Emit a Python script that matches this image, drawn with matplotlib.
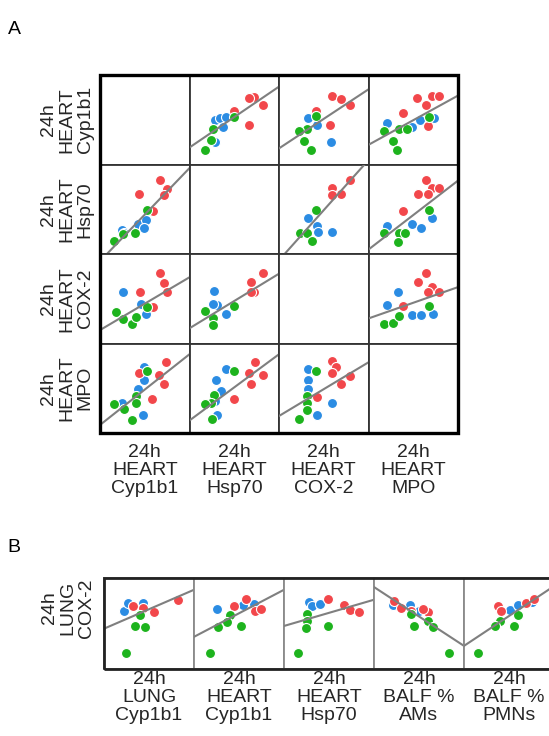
import matplotlib.pyplot as plt
from matplotlib.patches import Rectangle

plt.rcParams['font.family'] = ['Liberation Sans', 'DejaVu Sans']

RED = '#f2474b'
BLUE = '#2b8ce3'
GREEN = '#1db31d'

# panel A: heart variables of the scatter matrix
heart_labels = ["24h\nHEART\nCyp1b1", "24h\nHEART\nHsp70",
                "24h\nHEART\nCOX-2", "24h\nHEART\nMPO"]

# points per cell (row, col), scaled to the cell range 0..1
cell_0_1 = {"red": [(0.72, 0.75), (0.67, 0.74), (0.82, 0.67), (0.50, 0.60), (0.67, 0.44)],
            "blue": [(0.28, 0.50), (0.34, 0.52), (0.41, 0.53), (0.37, 0.42), (0.28, 0.25)],
            "green": [(0.50, 0.53), (0.26, 0.40), (0.24, 0.27), (0.17, 0.16)]}
cell_0_2 = {"red": [(0.59, 0.76), (0.69, 0.73), (0.79, 0.67), (0.41, 0.60), (0.57, 0.44)],
            "blue": [(0.32, 0.52), (0.43, 0.44), (0.58, 0.25)],
            "green": [(0.41, 0.54), (0.31, 0.40), (0.22, 0.37), (0.28, 0.26), (0.36, 0.16)]}
cell_0_3 = {"red": [(0.54, 0.74), (0.64, 0.67), (0.71, 0.76), (0.79, 0.76), (0.39, 0.58), (0.67, 0.43)],
            "blue": [(0.21, 0.46), (0.49, 0.42), (0.57, 0.50), (0.73, 0.52)],
            "green": [(0.17, 0.37), (0.34, 0.40), (0.43, 0.40), (0.68, 0.53), (0.27, 0.26), (0.32, 0.16)]}
cell_1_0 = {"red": [(0.67, 0.83), (0.75, 0.73), (0.44, 0.67), (0.72, 0.66), (0.59, 0.48)],
            "blue": [(0.25, 0.27), (0.42, 0.34), (0.51, 0.38), (0.49, 0.29), (0.27, 0.23)],
            "green": [(0.52, 0.49), (0.39, 0.24), (0.26, 0.22), (0.16, 0.15)]}
cell_1_2 = {"red": [(0.79, 0.83), (0.59, 0.74), (0.69, 0.67), (0.59, 0.66)],
            "blue": [(0.32, 0.40), (0.43, 0.31), (0.59, 0.25), (0.44, 0.25)],
            "green": [(0.41, 0.49), (0.23, 0.24), (0.31, 0.24), (0.37, 0.14)]}
cell_1_3 = {"red": [(0.64, 0.83), (0.71, 0.74), (0.79, 0.74), (0.55, 0.67), (0.67, 0.67), (0.39, 0.48)],
            "blue": [(0.21, 0.31), (0.49, 0.34), (0.59, 0.29), (0.71, 0.40)],
            "green": [(0.17, 0.24), (0.34, 0.24), (0.41, 0.24), (0.33, 0.13), (0.68, 0.49)]}
cell_2_0 = {"red": [(0.67, 0.79), (0.72, 0.68), (0.75, 0.58), (0.45, 0.57), (0.59, 0.41)],
            "blue": [(0.26, 0.58), (0.46, 0.44), (0.51, 0.33)],
            "green": [(0.18, 0.35), (0.26, 0.27), (0.36, 0.22), (0.40, 0.30), (0.53, 0.41)]}
cell_2_1 = {"red": [(0.82, 0.79), (0.69, 0.69), (0.72, 0.58), (0.69, 0.57)],
            "blue": [(0.27, 0.59), (0.31, 0.43), (0.41, 0.33), (0.26, 0.44)],
            "green": [(0.17, 0.36), (0.26, 0.29), (0.26, 0.21), (0.50, 0.42)]}
cell_2_3 = {"red": [(0.64, 0.79), (0.55, 0.69), (0.71, 0.63), (0.67, 0.58), (0.79, 0.58), (0.39, 0.42)],
            "blue": [(0.33, 0.58), (0.21, 0.43), (0.49, 0.32), (0.59, 0.32), (0.72, 0.33)],
            "green": [(0.17, 0.22), (0.27, 0.23), (0.34, 0.31), (0.68, 0.42)]}
cell_3_0 = {"red": [(0.74, 0.79), (0.66, 0.65), (0.72, 0.55), (0.44, 0.67), (0.58, 0.38)],
            "blue": [(0.49, 0.74), (0.49, 0.59), (0.42, 0.49), (0.48, 0.20), (0.25, 0.34)],
            "green": [(0.52, 0.69), (0.40, 0.41), (0.40, 0.33), (0.27, 0.27), (0.16, 0.32), (0.36, 0.15)]}
cell_3_1 = {"red": [(0.73, 0.79), (0.67, 0.67), (0.82, 0.65), (0.69, 0.55), (0.50, 0.38)],
            "blue": [(0.41, 0.72), (0.30, 0.59), (0.35, 0.47), (0.31, 0.20), (0.28, 0.36)],
            "green": [(0.50, 0.69), (0.27, 0.42), (0.24, 0.34), (0.17, 0.32), (0.25, 0.16)]}
cell_3_2 = {"red": [(0.59, 0.80), (0.64, 0.74), (0.59, 0.67), (0.79, 0.64), (0.69, 0.55), (0.42, 0.40)],
            "blue": [(0.32, 0.72), (0.32, 0.59), (0.32, 0.49), (0.43, 0.20), (0.59, 0.33)],
            "green": [(0.41, 0.69), (0.31, 0.41), (0.31, 0.33), (0.31, 0.26), (0.22, 0.16)]}

# fitted line per cell: (y at x=0, y at x=1)
fits_a = {(0, 1): (0.19, 0.87), (0, 2): (0.18, 0.84), (0, 3): (0.22, 0.77),
          (1, 0): (-0.08, 0.96), (1, 2): (-0.07, 1.05), (1, 3): (0.05, 0.82),
          (2, 0): (0.15, 0.74), (2, 1): (0.17, 0.78), (2, 3): (0.28, 0.63),
          (3, 0): (0.09, 0.88), (3, 1): (0.14, 0.88), (3, 2): (0.19, 0.79)}

cells_a = {(0, 1): cell_0_1, (0, 2): cell_0_2, (0, 3): cell_0_3,
           (1, 0): cell_1_0, (1, 2): cell_1_2, (1, 3): cell_1_3,
           (2, 0): cell_2_0, (2, 1): cell_2_1, (2, 3): cell_2_3,
           (3, 0): cell_3_0, (3, 1): cell_3_1, (3, 2): cell_3_2}

# panel B: lung COX-2 against five variables
b_labels = ["24h\nLUNG\nCyp1b1", "24h\nHEART\nCyp1b1", "24h\nHEART\nHsp70",
            "24h\nBALF %\nAMs", "24h\nBALF %\nPMNs"]
b_cells = [
    {"red": [(0.32, 0.69), (0.43, 0.67), (0.55, 0.62), (0.82, 0.76)],
     "blue": [(0.22, 0.63), (0.27, 0.72), (0.43, 0.72)],
     "green": [(0.40, 0.59), (0.34, 0.47), (0.46, 0.46), (0.24, 0.17)]},
    {"red": [(0.44, 0.69), (0.58, 0.77), (0.68, 0.63), (0.74, 0.66)],
     "blue": [(0.26, 0.66), (0.54, 0.70), (0.67, 0.71)],
     "green": [(0.40, 0.59), (0.37, 0.51), (0.27, 0.46), (0.52, 0.47), (0.18, 0.17)]},
    {"red": [(0.49, 0.77), (0.67, 0.70), (0.73, 0.65), (0.83, 0.62)],
     "blue": [(0.28, 0.73), (0.31, 0.69), (0.40, 0.71)],
     "green": [(0.26, 0.60), (0.26, 0.52), (0.24, 0.45), (0.49, 0.47), (0.16, 0.17)]},
    {"red": [(0.22, 0.75), (0.30, 0.67), (0.41, 0.64), (0.60, 0.62), (0.54, 0.66)],
     "blue": [(0.21, 0.70), (0.40, 0.70), (0.50, 0.64)],
     "green": [(0.41, 0.60), (0.44, 0.47), (0.60, 0.52), (0.65, 0.46), (0.83, 0.17)]},
    {"red": [(0.38, 0.69), (0.41, 0.63), (0.69, 0.72), (0.78, 0.77)],
     "blue": [(0.51, 0.65), (0.60, 0.70), (0.76, 0.73)],
     "green": [(0.40, 0.53), (0.34, 0.47), (0.56, 0.47), (0.60, 0.59), (0.16, 0.17)]},
]
b_fits = [(0.44, 0.87), (0.35, 0.87), (0.47, 0.76), (0.90, 0.25), (0.25, 0.91)]

W, H = 549, 736
fig = plt.figure(figsize=(W / 100, H / 100), dpi=100)
LABEL_KW = dict(fontsize=14, linespacing=1.08, color='#262626')


def px_axes(x0, y0, x1, y1):
    # pixel box (top-left origin) -> figure axes
    return fig.add_axes([x0 / W, 1 - y1 / H, (x1 - x0) / W, (y1 - y0) / H])


def draw_cell(ax, pts, fit, edge):
    ax.set_xlim(0, 1)
    ax.set_ylim(0, 1)
    ax.set_xticks([])
    ax.set_yticks([])
    for s in ax.spines.values():
        s.set_color(edge)
        s.set_linewidth(1.3)
    if pts is None:
        return
    for key, col in (("blue", BLUE), ("red", RED), ("green", GREEN)):
        xs = [p[0] for p in pts[key]]
        ys = [p[1] for p in pts[key]]
        ax.scatter(xs, ys, s=52, c=col, edgecolors='white', linewidths=0.8, zorder=2)
    ax.plot([0, 1], list(fit), color='#7f7f7f', lw=1.5, zorder=3)


# ---- panel A
ax0, ay0 = 100.0, 75.0
cw, ch = 89.5, 89.5
for r in range(4):
    for c in range(4):
        ax = px_axes(ax0 + c * cw, ay0 + r * ch, ax0 + (c + 1) * cw, ay0 + (r + 1) * ch)
        draw_cell(ax, cells_a.get((r, c)), fits_a.get((r, c)), '#333333')

fig.patches.append(Rectangle((ax0 / W, 1 - (ay0 + 4 * ch) / H), 4 * cw / W, 4 * ch / H,
                             transform=fig.transFigure, fill=False, ec='black', lw=2.4))

for r, lab in enumerate(heart_labels):
    fig.text(67 / W, 1 - (ay0 + (r + 0.5) * ch) / H, lab, rotation=90, ha='center',
             va='center', **LABEL_KW)
for c, lab in enumerate(heart_labels):
    fig.text((ax0 + (c + 0.5) * cw) / W, 1 - 444 / H, lab, ha='center', va='top', **LABEL_KW)

fig.text(14 / W, 1 - 30 / H, "A", ha='center', va='center', fontsize=14)
fig.text(14 / W, 1 - 548 / H, "B", ha='center', va='center', fontsize=14)

# ---- panel B
bx0, by0, by1 = 104.0, 578.0, 668.5
bw = 90.0
for c in range(5):
    ax = px_axes(bx0 + c * bw, by0, bx0 + (c + 1) * bw, by1)
    draw_cell(ax, b_cells[c], b_fits[c], '#8a8a8a')

fig.patches.append(Rectangle((bx0 / W, 1 - by1 / H), 5 * bw / W, (by1 - by0) / H,
                             transform=fig.transFigure, fill=False, ec='#222222', lw=2.0))

fig.text(68 / W, 1 - 608 / H, "24h\nLUNG\nCOX-2", rotation=90, ha='center', va='center',
         **LABEL_KW)
for c, lab in enumerate(b_labels):
    fig.text((bx0 + (c + 0.5) * bw) / W, 1 - 671 / H, lab, ha='center', va='top', **LABEL_KW)

fig.savefig("out.png", dpi=100)
plt.close(fig)
